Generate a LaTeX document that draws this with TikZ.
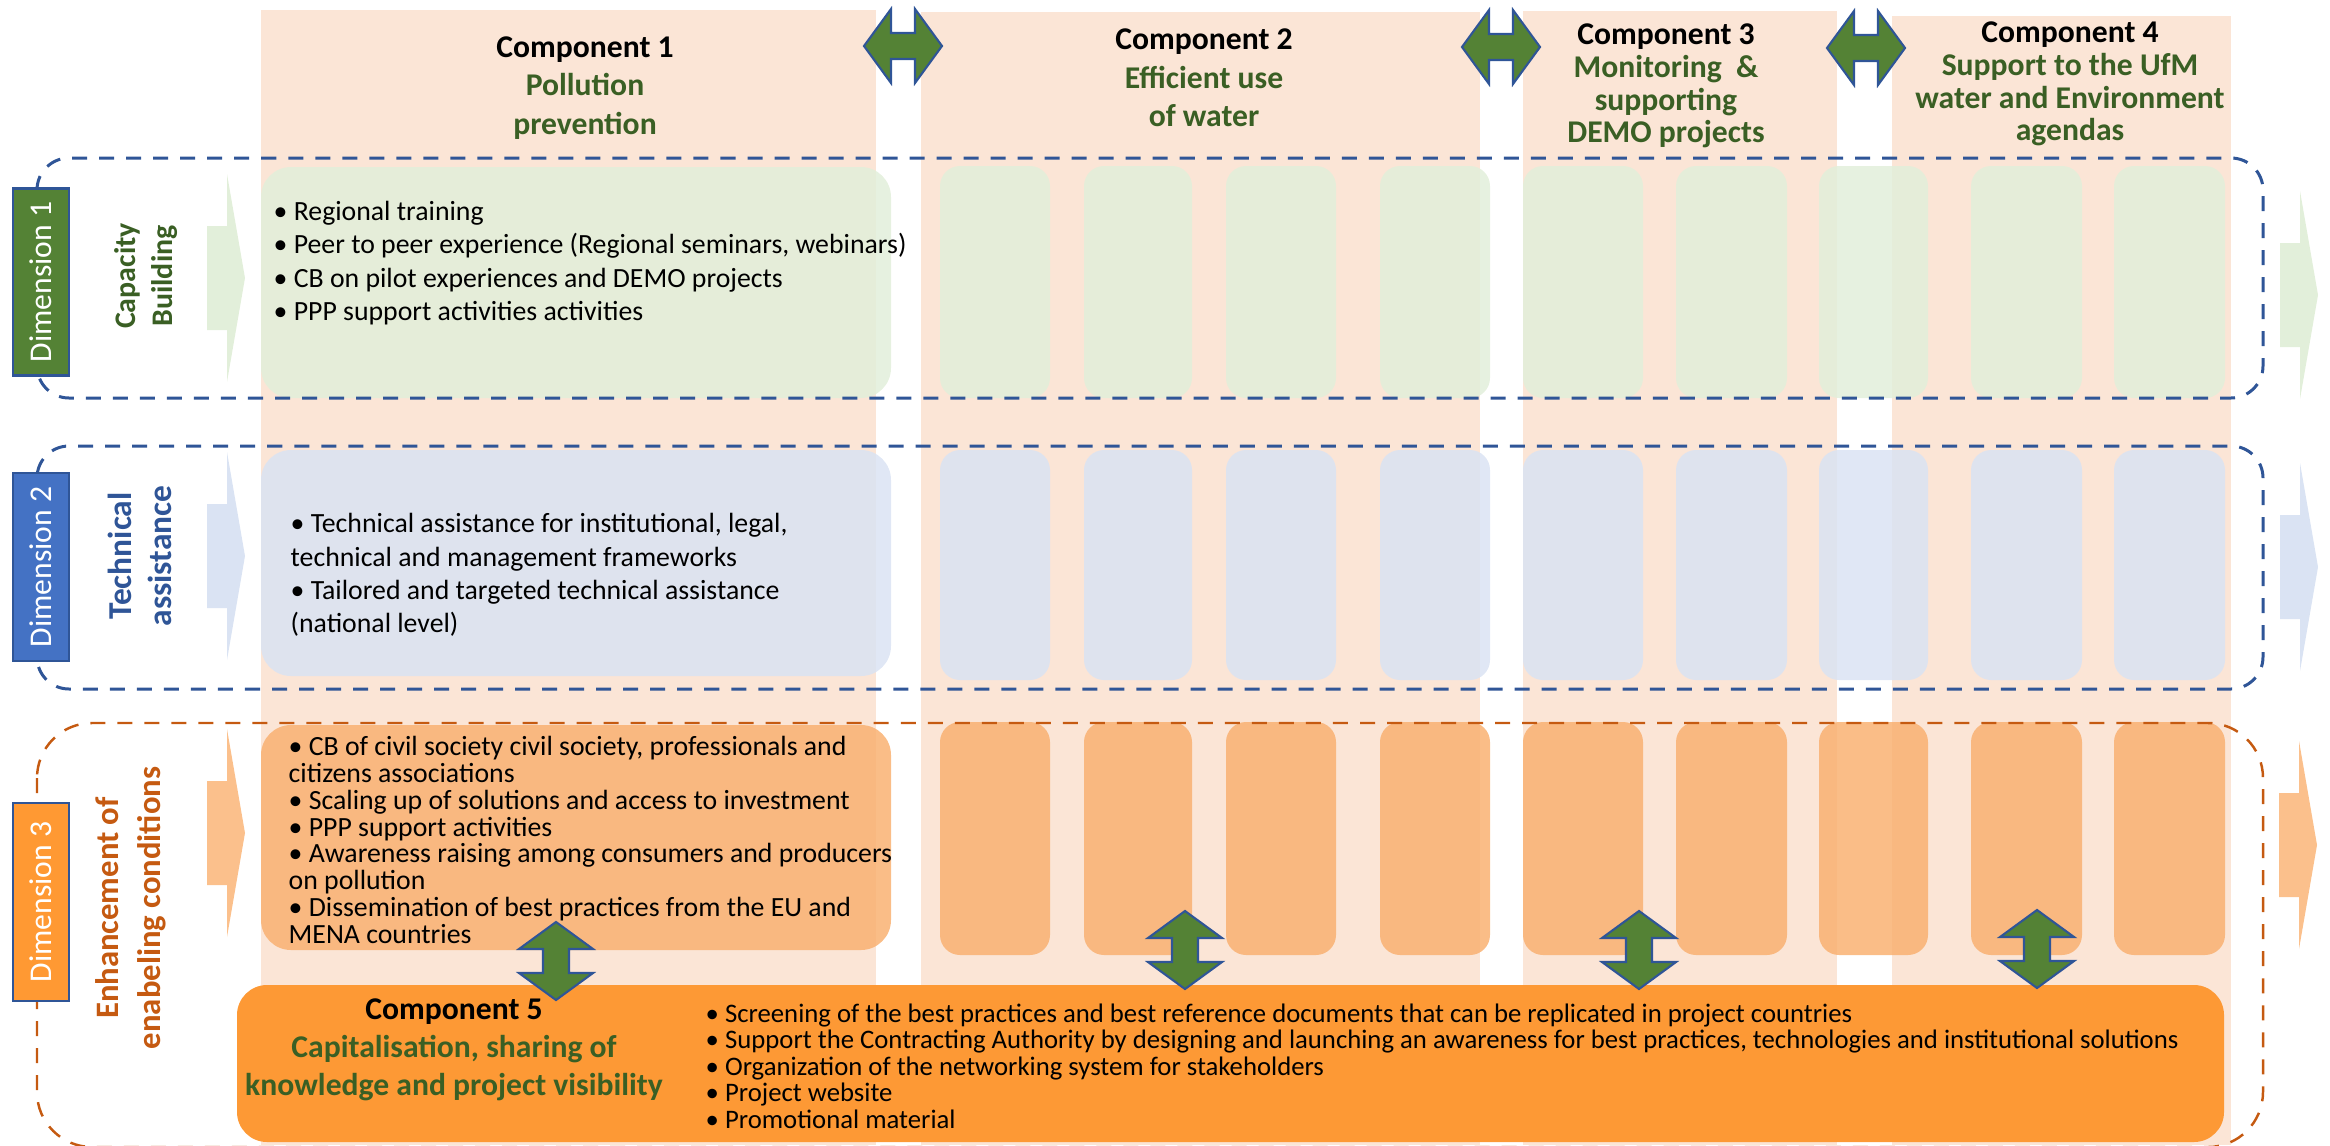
\documentclass[tikz,border=0pt]{standalone}
\usepackage{fontspec}
\setmainfont{Carlito}
\usepackage{tikz}

\definecolor{peach}{HTML}{FBE5D6}
\definecolor{greencard}{HTML}{E2EFDA}
\definecolor{bluecard}{HTML}{DAE3F3}
\definecolor{orangecard}{HTML}{F9B172}
\definecolor{compfive}{HTML}{FD9935}
\definecolor{dimgreen}{HTML}{548235}
\definecolor{dimblue}{HTML}{4472C4}
\definecolor{dimorange}{HTML}{FF9933}
\definecolor{lineblue}{HTML}{2F5597}
\definecolor{lineorange}{HTML}{C55A11}
\definecolor{titlegreen}{HTML}{3A5F24}
\definecolor{chevgreen}{HTML}{E2EFDA}
\definecolor{chevblue}{HTML}{DAE3F3}
\definecolor{chevorange}{HTML}{FBC08C}

\tikzset{
  card/.style={rounded corners=0.2cm, fill opacity=0.85},
  bigcard/.style={rounded corners=0.3cm, fill opacity=0.85},
  band/.style={dash pattern=on 0.15cm off 0.12cm, line width=0.85pt},
  dimtag/.style={draw=lineblue, line width=0.7pt, text=white, rotate=90,
    minimum height=0.56cm, font=\fontsize{9}{11}\selectfont},
  dimtitle/.style={rotate=90, align=center},
  heading/.style={align=center, text=titlegreen},
  bullets/.style={anchor=west, align=left},
  twoway/.pic={
    \draw [fill=dimgreen, draw=lineblue, line width=0.6pt, line join=miter]
      (-39,0) -- (-12,-37) -- (-12,-13) -- (12,-13) -- (12,-37) -- (39,0)
      -- (12,37) -- (12,13) -- (-12,13) -- (-12,37) -- cycle;
  },
  flow/.pic={
    \fill (-38,-52) -- (-18,-52) -- (-18,-104) -- (0,0) -- (-18,104)
      -- (-18,52) -- (-38,52) -- cycle;
  }
}

\begin{document}
\begin{tikzpicture}[x=0.01cm,y=-0.01cm]
\tikzstyle{every node}+=[inner sep=0pt]
\useasboundingbox (0,0) rectangle (2330,1145);
\fill [peach] (261,10) rectangle (876,1145);
\fill [peach] (921,12) rectangle (1480,1145);
\fill [peach] (1523,11) rectangle (1837,1145);
\fill [peach] (1892,16) rectangle (2231,1145);
\fill [bigcard, greencard] (261,167) rectangle (891,398);
\fill [bigcard, bluecard] (261,450) rectangle (891,676);
\fill [bigcard, orangecard] (261,725) rectangle (891,950);
\foreach \a/\b in {940/1050,1084/1192,1226/1336,1380/1490,1523/1643,1676/1787,1819/1928,1971/2082,2114/2225} {
  \fill [card, greencard] (\a,166) rectangle (\b,398);
  \fill [card, bluecard] (\a,450) rectangle (\b,680);
  \fill [card, orangecard] (\a,722) rectangle (\b,955);
}
\draw [band, lineblue, rounded corners=0.32cm] (37,158) rectangle (2263,398);
\draw [band, lineblue, rounded corners=0.32cm] (37,446) rectangle (2263,689);
\draw [band, lineorange, line width=0.7pt, rounded corners=0.55cm] (37,723) rectangle (2263,1147);
\pic [fill=chevgreen] at (245,278) {flow};
\pic [fill=chevblue] at (245,556) {flow};
\pic [fill=chevorange] at (245,833) {flow};
\pic [fill=chevgreen] at (2318,295) {flow};
\pic [fill=chevblue] at (2318,567) {flow};
\pic [fill=chevorange] at (2317,845) {flow};
\node [dimtag, fill=dimgreen, minimum width=1.87cm] (dim1) at (41,282) {Dimension 1};
\node [dimtag, fill=dimblue, minimum width=1.88cm] (dim2) at (41,567) {Dimension 2};
\node [dimtag, fill=dimorange, minimum width=1.98cm] (dim3) at (41,902) {Dimension 3};
\node [dimtitle, text=titlegreen, font=\bfseries\fontsize{8.5}{10.6}\selectfont] (capacity) at (146,276) {Capacity\\Building};
\node [dimtitle, text=lineblue, font=\bfseries\fontsize{9.5}{11.5}\selectfont] (technical) at (140,556) {Technical\\assistance};
\node [dimtitle, text=lineorange, font=\bfseries\fontsize{9.3}{12}\selectfont] (enabling) at (131,908) {Enhancement of\\enabeling conditions};
\node [heading, font=\bfseries\fontsize{9}{11}\selectfont] (comp1) at (585,88) {\textcolor{black}{Component 1}\\Pollution\\prevention};
\node [heading, font=\bfseries\fontsize{9}{11}\selectfont] (comp2) at (1204,78) {\textcolor{black}{Component 2}\\Efficient use\\of water};
\node [heading, font=\bfseries\fontsize{9}{9.3}\selectfont] (comp3) at (1666,86) {\textcolor{black}{Component 3}\\Monitoring\ \ \&\\supporting\\DEMO projects};
\node [heading, font=\bfseries\fontsize{9}{9.3}\selectfont] (comp4) at (2070,84) {\textcolor{black}{Component 4}\\Support to the UfM\\water and Environment\\agendas};
\node [bullets, font=\fontsize{7.9}{9.5}\selectfont] (cbitems) at (273,263) {• Regional training\\• Peer to peer experience (Regional seminars, webinars)\\• CB on pilot experiences and DEMO projects\\• PPP support activities activities};
\node [bullets, font=\fontsize{7.9}{9.5}\selectfont] (taitems) at (290,575) {• Technical assistance for institutional, legal,\\technical and management frameworks\\• Tailored and targeted technical assistance\\(national level)};
\node [bullets, font=\fontsize{7.9}{7.63}\selectfont] (ecitems) at (288,840) {• CB of civil society civil society, professionals and\\citizens associations\\• Scaling up of solutions and access to investment\\• PPP support activities\\• Awareness raising among consumers and producers\\on pollution\\• Dissemination of best practices from the EU and\\MENA countries};
\fill [compfive, rounded corners=0.3cm] (237,985) rectangle (2224,1142);
\node [heading, font=\bfseries\fontsize{9}{10.8}\selectfont] (comp5) at (454,1050) {\textcolor{black}{Component 5}\\Capitalisation, sharing of\\knowledge and project visibility};
\node [bullets, font=\fontsize{7.6}{7.54}\selectfont] (c5items) at (705,1066) {• Screening of the best practices and best reference documents that can be replicated in project countries\\• Support the Contracting Authority by designing and launching an awareness for best practices, technologies and institutional solutions\\• Organization of the networking system for stakeholders\\• Project website\\• Promotional material};
\pic at (903,46) {twoway};
\pic at (1501,47) {twoway};
\pic at (1866,48) {twoway};
\pic [rotate=90] at (556,961) {twoway};
\pic [rotate=90] at (1185,950) {twoway};
\pic [rotate=90] at (1639,950) {twoway};
\pic [rotate=90] at (2037,949) {twoway};
\end{tikzpicture}
\end{document}
